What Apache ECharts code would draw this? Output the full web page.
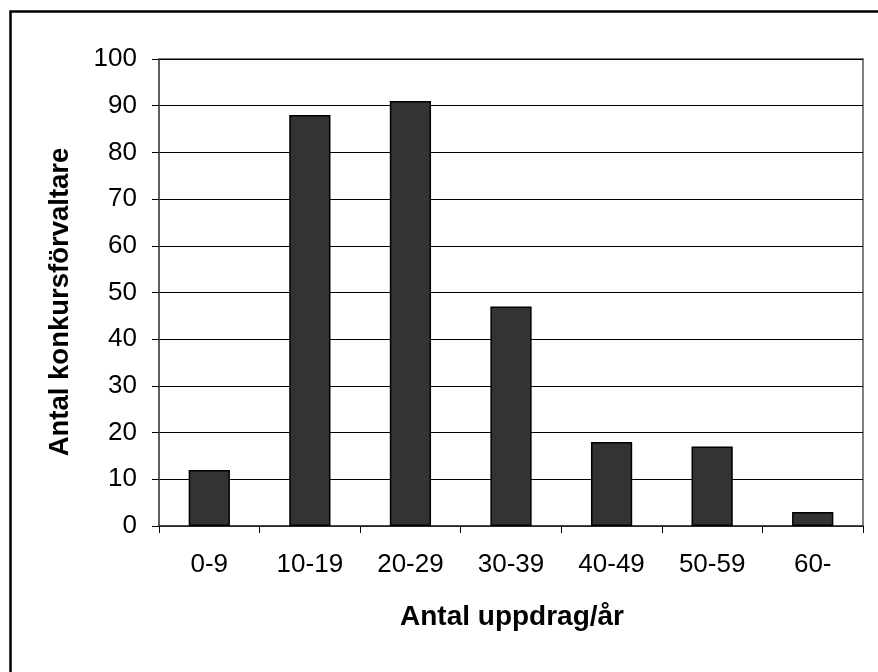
<!DOCTYPE html>
<html>
<head>
<meta charset="utf-8">
<script src="https://cdn.jsdelivr.net/npm/echarts@6/dist/echarts.min.js"></script>
<style>
html,body{margin:0;padding:0;background:#fff;}
#c{width:878px;height:672px;}
</style>
</head>
<body>
<div id="c"></div>
<script>
var categories = ['0-9', '10-19', '20-29', '30-39', '40-49', '50-59', '60-'];
var counts = [12, 88, 91, 47, 18, 17, 3];
var yTitle = 'Antal konkursförvaltare';
var xTitle = 'Antal uppdrag/år';

var FONT = '"Liberation Sans", Arial, sans-serif';
var chart = echarts.init(document.getElementById('c'), null, {renderer: 'canvas'});
chart.setOption({
  animation: false,
  backgroundColor: '#ffffff',
  graphic: [
    {type: 'rect', left: 8, top: 9, shape: {width: 1000, height: 1000},
     style: {fill: 'none', stroke: '#000', lineWidth: 2.5}, silent: true},
    {type: 'text', x: 60, y: 302, rotation: Math.PI / 2,
     style: {text: yTitle, font: 'bold 27.5px ' + FONT, fill: '#000',
             textAlign: 'center', textVerticalAlign: 'middle'}},
    {type: 'text', x: 512, y: 617,
     style: {text: xTitle, font: 'bold 28px ' + FONT, fill: '#000',
             textAlign: 'center', textVerticalAlign: 'middle'}}
  ],
  grid: {left: 159, right: 15, top: 59, bottom: 146, show: true,
         borderColor: '#808080', borderWidth: 2, backgroundColor: 'transparent'},
  xAxis: {
    type: 'category',
    data: categories,
    axisLine: {lineStyle: {color: '#333', width: 1.5}},
    axisTick: {show: true, length: 7, inside: false, alignWithLabel: false, lineStyle: {color: '#000'}},
    axisLabel: {fontFamily: FONT, fontSize: 26, color: '#000', margin: 26},
    splitLine: {show: false}
  },
  yAxis: {
    type: 'value',
    min: 0, max: 100, interval: 10,
    axisLine: {show: true, lineStyle: {color: '#555', width: 1.5}},
    axisTick: {show: true, length: 7, lineStyle: {color: '#000'}},
    axisLabel: {fontFamily: FONT, fontSize: 26, color: '#000', margin: 22},
    splitLine: {show: true, lineStyle: {color: '#000', width: 1}}
  },
  series: [{
    type: 'bar',
    data: counts,
    barWidth: '41%',
    itemStyle: {color: '#333333', borderColor: '#000', borderWidth: 1.5}
  }]
});
</script>
</body>
</html>
